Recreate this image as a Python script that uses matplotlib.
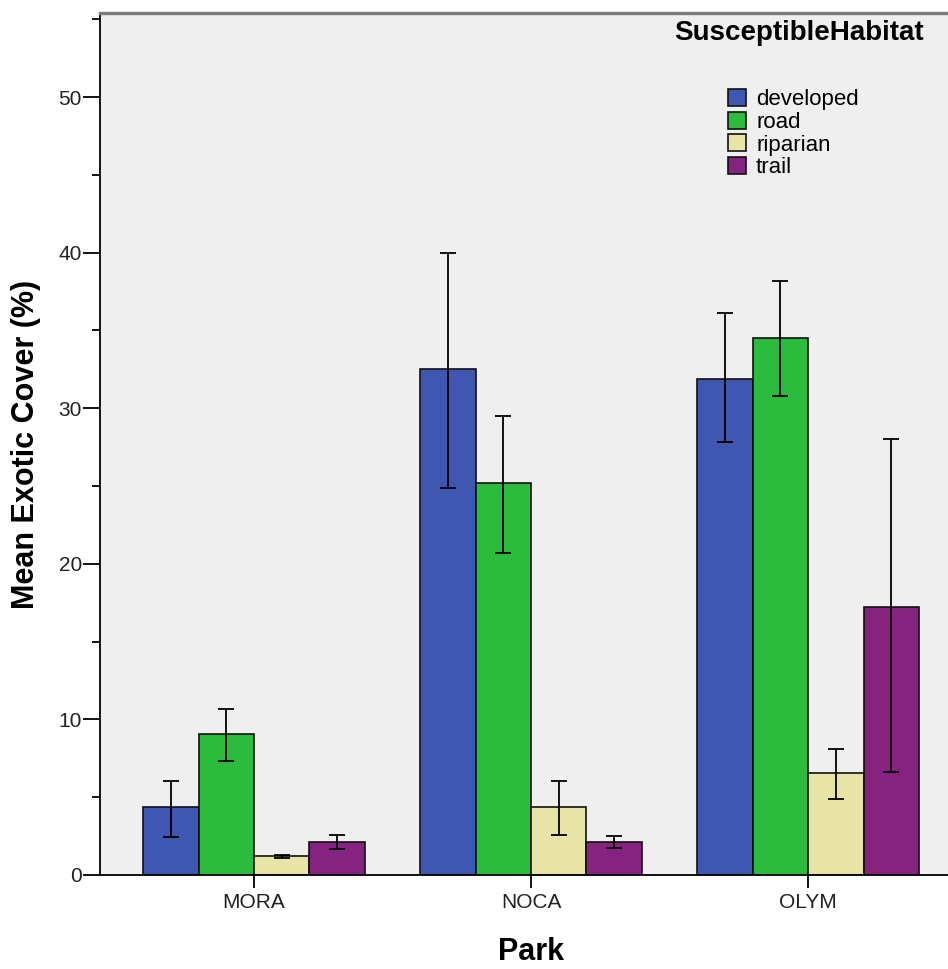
import numpy as np
import matplotlib
matplotlib.use("Agg")
import matplotlib.pyplot as plt

plt.rcParams['font.family'] = ['Liberation Sans', 'DejaVu Sans']

parks = ['MORA', 'NOCA', 'OLYM']
habitats = ['developed', 'road', 'riparian', 'trail']

# means and error bar ends (low, high)
developed = [4.4, 32.5, 31.9]
developed_lo = [2.45, 24.9, 27.8]
developed_hi = [6.05, 40.0, 36.1]

road = [9.05, 25.2, 34.5]
road_lo = [7.3, 20.7, 30.8]
road_hi = [10.65, 29.5, 38.2]

riparian = [1.2, 4.35, 6.55]
riparian_lo = [1.12, 2.55, 4.9]
riparian_hi = [1.3, 6.05, 8.1]

trail = [2.1, 2.1, 17.25]
trail_lo = [1.65, 1.75, 6.6]
trail_hi = [2.55, 2.5, 28.0]

means = [developed, road, riparian, trail]
lows = [developed_lo, road_lo, riparian_lo, trail_lo]
highs = [developed_hi, road_hi, riparian_hi, trail_hi]
colors = ['#3F57B0', '#2DBB3E', '#E8E3A7', '#86227F']

W, H = 948, 969
fig = plt.figure(figsize=(W / 100, H / 100), dpi=100)
ax = fig.add_axes([100 / W, 94 / H, 848 / W, 862 / H])
ax.set_facecolor('#EFEFEF')

x = np.arange(len(parks))
w = 0.2
handles = []
for i, hab in enumerate(habitats):
    pos = x + (i - 1.5) * w
    m = np.array(means[i])
    b = ax.bar(pos, m, width=w, color=colors[i], edgecolor='#111111',
               linewidth=1.2, label=hab, zorder=2)
    handles.append(b)
    yerr = [m - np.array(lows[i]), np.array(highs[i]) - m]
    ax.errorbar(pos, m, yerr=yerr, fmt='none', ecolor='black',
                elinewidth=1.3, capsize=6, capthick=1.3, zorder=3)

ax.set_xlim(-0.556, 2.505)
ax.set_ylim(0, 55.4)

ax.set_xticks(x)
ax.set_xticklabels(parks, fontsize=15, color='#222222')
ax.set_yticks(np.arange(0, 51, 10))
ax.set_yticks(np.arange(5, 56, 10), minor=True)
ax.tick_params(axis='y', which='major', length=12, width=1.3, pad=1,
               labelsize=15, labelcolor='#222222')
ax.tick_params(axis='y', which='minor', length=6, width=1.3)
ax.tick_params(axis='x', which='major', length=9, width=1.3, pad=4)

ax.spines['right'].set_visible(False)
ax.spines['top'].set_color('#7A7A7A')
ax.spines['top'].set_linewidth(2.4)
ax.spines['left'].set_linewidth(1.3)
ax.spines['bottom'].set_linewidth(1.3)

ax.set_ylabel('Mean Exotic Cover (%)', fontsize=22, fontweight='bold')
ax.yaxis.set_label_coords(-0.0696, 0.5)
ax.set_xlabel('Park', fontsize=22, fontweight='bold')
ax.xaxis.set_label_coords(0.508, -0.072)

fig.text(799 / W, 1 - 33 / H, 'SusceptibleHabitat', ha='center', va='center',
         fontsize=20, fontweight='bold')
ax.legend(handles=handles, loc='upper left', bbox_to_anchor=(728 / W, 1 - 89 / H),
          bbox_transform=fig.transFigure, frameon=False, fontsize=16,
          borderpad=0, borderaxespad=0, labelspacing=0.06, handlelength=0.81,
          handleheight=0.81, handletextpad=0.45)

plt.savefig('out.png', dpi=100)
